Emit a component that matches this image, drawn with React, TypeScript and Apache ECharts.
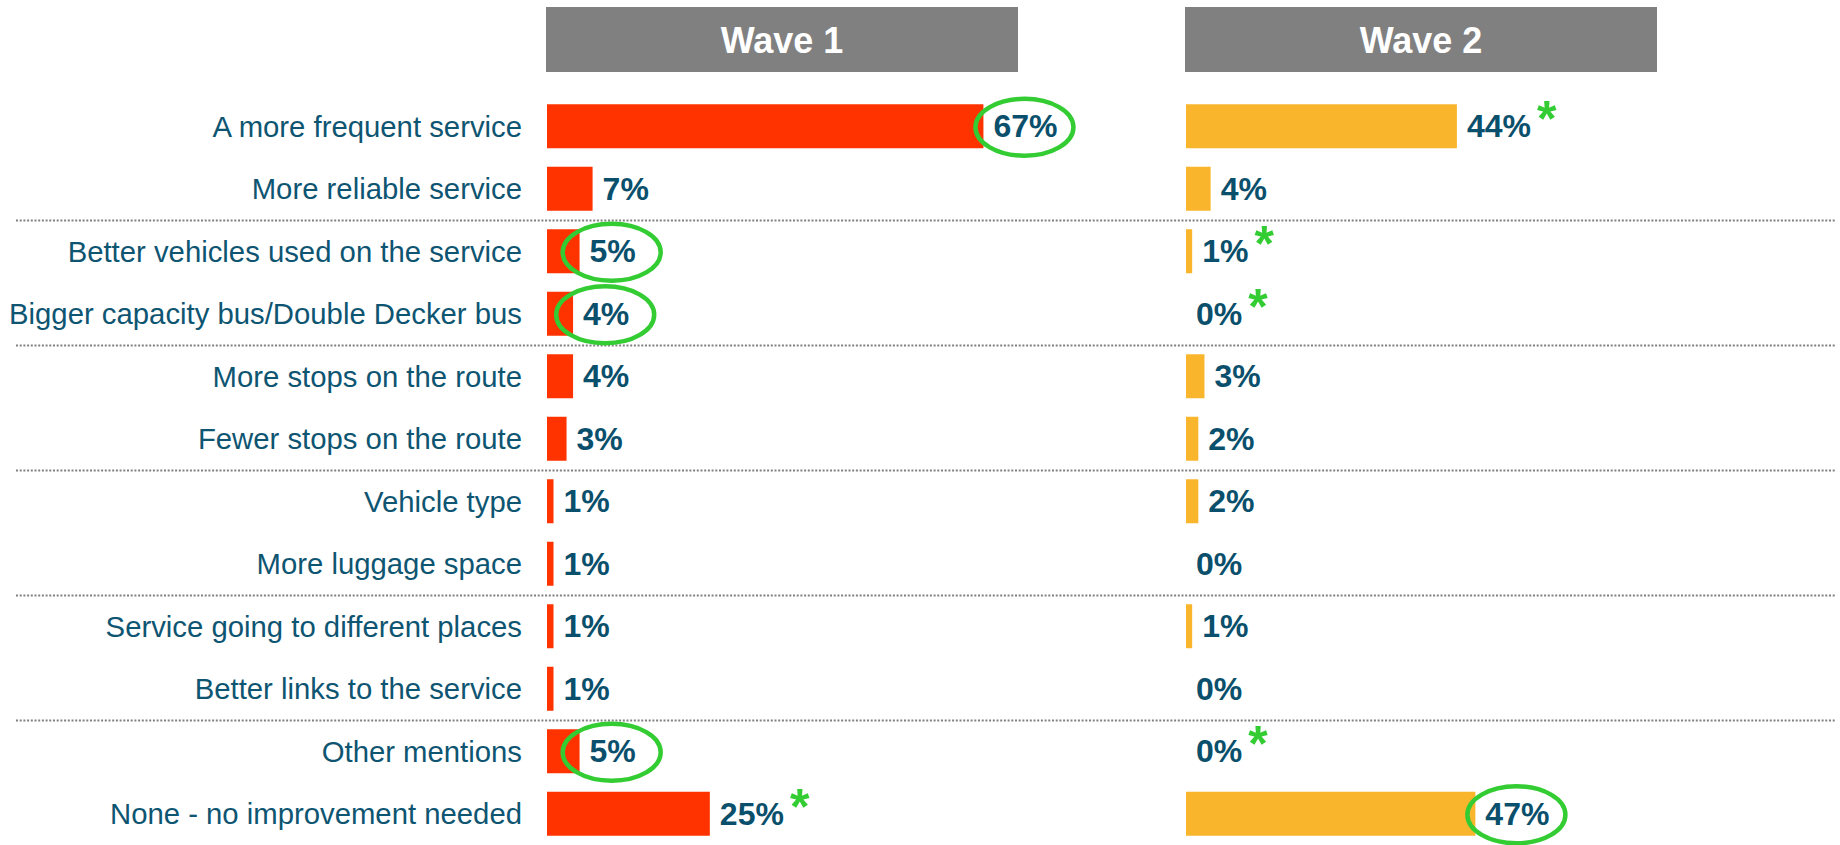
import React, { useEffect, useRef } from "react";
import * as echarts from "echarts";

const categories = [
  "A more frequent service",
  "More reliable service",
  "Better vehicles used on the service",
  "Bigger capacity bus/Double Decker bus",
  "More stops on the route",
  "Fewer stops on the route",
  "Vehicle type",
  "More luggage space",
  "Service going to different places",
  "Better links to the service",
  "Other mentions",
  "None - no improvement needed",
];
const wave1 = [67, 7, 5, 4, 4, 3, 1, 1, 1, 1, 5, 25];
const wave2 = [44, 4, 1, 0, 3, 2, 2, 0, 1, 0, 0, 47];
const waveNames = ["Wave 1", "Wave 2"];
// annotations
const circled1 = [0, 2, 3, 10];
const circled2 = [11];
const starred1 = [11];
const starred2 = [0, 2, 3, 10];
// dotted separators after these row indices
const separatorsAfter = [1, 3, 5, 7, 9];

const FF = '"Liberation Sans", Arial, Helvetica, sans-serif';
const LABEL_COLOR = "#0e5572";
const VALUE_COLOR = "#0a4f6b";
const GREEN = "#33cc33";
const C1 = "#ff3300";
const C2 = "#f9b52b";
const VALUE_FS = 32;

export default function App() {
  const ref = useRef<HTMLDivElement>(null);
  useEffect(() => {
    if (!ref.current) return;
    const chart = echarts.init(ref.current, null, { renderer: "svg" });
    const mkSeries = (data: number[], color: string, stars: number[], gi: number) => ({
      type: "bar",
      xAxisIndex: gi,
      yAxisIndex: gi,
      data,
      barWidth: 44,
      itemStyle: { color },
      label: {
        show: true,
        position: "right",
        distance: 10,
        formatter: (p: any) =>
          stars.includes(p.dataIndex) ? `{v|${p.value}%}{s|*}` : `{v|${p.value}%}`,
        rich: {
          v: { fontSize: VALUE_FS, fontWeight: "bold", color: VALUE_COLOR, fontFamily: FF },
          s: {
            fontSize: 50,
            fontWeight: "bold",
            color: GREEN,
            fontFamily: FF,
            padding: [0, 0, 14, 6],
          },
        },
      },
    });
    chart.setOption({
      animation: false,
      grid: [
        { left: 547, width: 469, top: 95, height: 756 },
        { left: 1186, width: 471, top: 95, height: 756 },
      ],
      xAxis: [
        { type: "value", gridIndex: 0, min: 0, max: 72, show: false },
        { type: "value", gridIndex: 1, min: 0, max: 76.5, show: false },
      ],
      yAxis: [
        {
          type: "category",
          gridIndex: 0,
          data: categories,
          inverse: true,
          axisLine: { show: false },
          axisTick: { show: false },
          axisLabel: { margin: 25, fontSize: 29.3, color: LABEL_COLOR, fontFamily: FF },
        },
        { type: "category", gridIndex: 1, data: categories, inverse: true, show: false },
      ],
      series: [mkSeries(wave1, C1, starred1, 0), mkSeries(wave2, C2, starred2, 1)],
    });

    const ctx = document.createElement("canvas").getContext("2d")!;
    ctx.font = `bold ${VALUE_FS}px ${FF}`;
    const graphics: any[] = [];
    // headers
    const headers = [
      { x: 546, w: 472 },
      { x: 1185, w: 472 },
    ];
    headers.forEach((h, i) => {
      graphics.push({
        type: "rect",
        shape: { x: h.x, y: 7, width: h.w, height: 65 },
        style: { fill: "#808080" },
        silent: true,
      });
      graphics.push({
        type: "text",
        x: h.x + h.w / 2,
        y: 40,
        style: {
          text: waveNames[i],
          fill: "#ffffff",
          fontSize: 36,
          fontWeight: "bold",
          fontFamily: FF,
          align: "center",
          verticalAlign: "middle",
          textAlign: "center",
          textVerticalAlign: "middle",
        },
        silent: true,
      });
    });
    // dotted separators
    separatorsAfter.forEach((k) => {
      const a = chart.convertToPixel({ gridIndex: 0 } as any, [0, k]) as number[];
      const b = chart.convertToPixel({ gridIndex: 0 } as any, [0, k + 1]) as number[];
      const y = Math.round((a[1] + b[1]) / 2) + 0.5;
      graphics.push({
        type: "line",
        shape: { x1: 16, y1: y, x2: 1835, y2: y },
        style: { stroke: "#808080", lineWidth: 2, lineDash: [2, 1.7] },
        silent: true,
      });
    });
    // ellipses
    const addEllipses = (gi: number, vals: number[], idx: number[]) => {
      idx.forEach((i) => {
        const p = chart.convertToPixel({ gridIndex: gi } as any, [vals[i], i]) as number[];
        const w = ctx.measureText(`${vals[i]}%`).width;
        graphics.push({
          type: "ellipse",
          z: 100,
          shape: { cx: p[0] + 10 + w / 2 - 1, cy: p[1] + 1, rx: 49, ry: 28.5 },
          style: { fill: "none", stroke: GREEN, lineWidth: 4.5 },
          silent: true,
        });
      });
    };
    addEllipses(0, wave1, circled1);
    addEllipses(1, wave2, circled2);
    chart.setOption({ graphic: graphics });
    return () => chart.dispose();
  }, []);
  return (
    <div
      ref={ref}
      style={{ position: "fixed", left: 0, top: 0, width: 1840, height: 845, background: "#fff" }}
    />
  );
}
